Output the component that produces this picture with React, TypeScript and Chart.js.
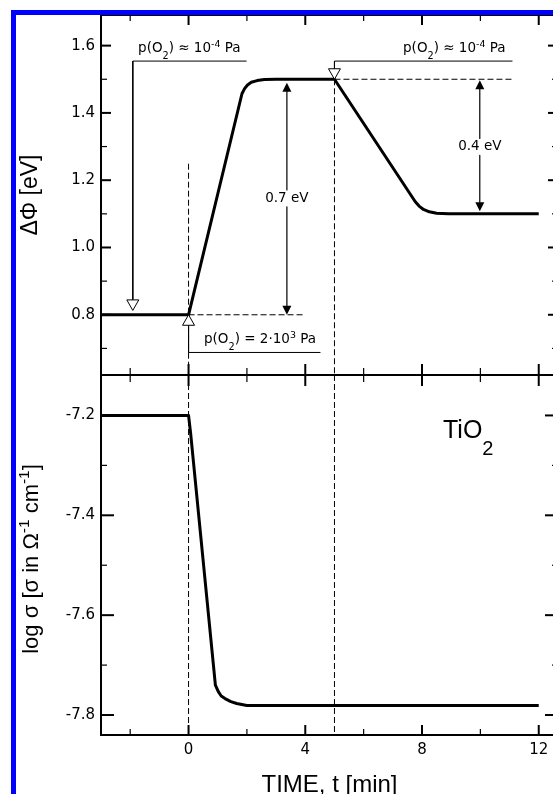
import React, { useEffect, useRef } from 'react';
import { Chart, registerables } from 'chart.js';
Chart.register(...registerables);

// ---- main curves ----
const timeDeltaPhi = [-3, 0, 1.83, 1.92, 2.02, 2.15, 2.35, 2.6, 3.0, 5.0, 7.77, 7.9, 8.05, 8.25, 8.5, 8.9, 12];
const deltaPhi = [0.8, 0.8, 1.457, 1.472, 1.483, 1.491, 1.496, 1.499, 1.5, 1.5, 1.136, 1.123, 1.113, 1.106, 1.102, 1.1, 1.1];
const timeLogSigma = [-3, 0, 0.07, 0.92, 1.02, 1.12, 1.25, 1.45, 1.65, 2.0, 12];
const logSigma = [-7.2, -7.2, -7.235, -7.74, -7.753, -7.762, -7.767, -7.773, -7.777, -7.781, -7.781];

// ---- axes ----
const xRange = [-3, 12.66];
const topRange = [0.621, 1.691];
const bottomRange = [-7.84, -7.119];
const xMajorTicks = [0, 4, 8, 12];
const xMinorTicks = [-2, 2, 6, 10];
const topMajorTicks = [0.8, 1.0, 1.2, 1.4, 1.6];
const topMinorTicks = [0.7, 0.9, 1.1, 1.3, 1.5];
const bottomMajorTicks = [-7.8, -7.6, -7.4, -7.2];
const bottomMinorTicks = [-7.7, -7.5, -7.3];

// ---- annotations ----
const gasSwitchTimes = [0, 5];
const dashedStartTop = [1.249, 1.5];
const levelDashStartT = [0, 5];
const levelDashEndT = [3.94, 11.1];
const levelDashV = [0.8, 1.5];
const leftBracketT = [1.99, -1.91, -1.91];
const leftBracketV = [1.554, 1.554, 0.845];
const rightBracketT = [11.1, 5, 5];
const rightBracketV = [1.554, 1.554, 1.531];
const o2BracketT = [0, 0, 4.52];
const o2BracketV = [0.769, 0.688, 0.688];
const openMarkerT = [-1.91, 5, 0];
const openMarkerTipV = [0.813, 1.5, 0.8];
const openMarkerDir = ['down', 'down', 'up'];
const arrowT = [3.37, 9.98];
const arrowTop = [1.49, 1.497];
const arrowBottom = [0.8, 1.108];
const arrowLabel = ['0.7 eV', '0.4 eV'];
const arrowLabelV = [1.146, 1.299];
const arrowGap = 0.025;
const pressureLabelT = [-1.73, 7.35, 0.53];
const pressureLabelV = [1.581, 1.581, 0.716];
const pressureLabelKind = ['low', 'low', 'high'];
const materialT = 8.72;
const materialV = -7.2447;

type Part = { t: string; scale?: number; dy?: number };
const lowPressureText: Part[] = [{ t: 'p(O' }, { t: '2', scale: 0.72, dy: 0.5 }, { t: ') ≈ 10' }, { t: '-4', scale: 0.7, dy: -0.4 }, { t: ' Pa' }];
const highPressureText: Part[] = [{ t: 'p(O' }, { t: '2', scale: 0.72, dy: 0.5 }, { t: ') = 2·10' }, { t: '3', scale: 0.7, dy: -0.4 }, { t: ' Pa' }];
const materialText: Part[] = [{ t: 'TiO' }, { t: '2', scale: 0.8, dy: 0.7 }];
const yTitleTop: Part[] = [{ t: 'ΔΦ [eV]' }];
const yTitleBottom: Part[] = [{ t: 'log σ [σ in Ω' }, { t: '-1', scale: 0.7, dy: -0.4 }, { t: ' cm' }, { t: '-1', scale: 0.7, dy: -0.4 }, { t: ']' }];
const xTitle = 'TIME, t [min]';

function drawRich(ctx: CanvasRenderingContext2D, parts: Part[], x: number, y: number, size: number, family: string, align: 'left' | 'center') {
  ctx.textAlign = 'left';
  ctx.textBaseline = 'alphabetic';
  const widths = parts.map((p) => {
    ctx.font = `${size * (p.scale ?? 1)}px "${family}"`;
    return ctx.measureText(p.t).width;
  });
  const total = widths.reduce((a, b) => a + b, 0);
  let cx = align === 'center' ? x - total / 2 : x;
  parts.forEach((p, i) => {
    ctx.font = `${size * (p.scale ?? 1)}px "${family}"`;
    ctx.fillText(p.t, cx, y + (p.dy ?? 0) * size);
    cx += widths[i];
  });
}

const overlay = {
  id: 'overlay',
  afterDatasetsDraw(chart: any) {
    const ctx: CanvasRenderingContext2D = chart.ctx;
    const xs = chart.scales.x, yt = chart.scales.yTop, yb = chart.scales.yBot;
    ctx.save();
    ctx.strokeStyle = '#000';
    ctx.fillStyle = '#000';
    openMarkerT.forEach((t, i) => {
      const px = xs.getPixelForValue(t);
      const py = yt.getPixelForValue(openMarkerTipV[i]);
      const by = py + (openMarkerDir[i] === 'down' ? -10.5 : 10.5);
      ctx.beginPath();
      ctx.moveTo(px, py);
      ctx.lineTo(px - 6, by);
      ctx.lineTo(px + 6, by);
      ctx.closePath();
      ctx.fillStyle = '#fff';
      ctx.fill();
      ctx.lineWidth = 1;
      ctx.stroke();
    });
    ctx.fillStyle = '#000';
    arrowT.forEach((t, i) => {
      const px = xs.getPixelForValue(t);
      const pt = yt.getPixelForValue(arrowTop[i]);
      const pb = yt.getPixelForValue(arrowBottom[i]);
      ctx.beginPath();
      ctx.moveTo(px, pt);
      ctx.lineTo(px - 4.5, pt + 9);
      ctx.lineTo(px + 4.5, pt + 9);
      ctx.closePath();
      ctx.fill();
      ctx.beginPath();
      ctx.moveTo(px, pb);
      ctx.lineTo(px - 4.5, pb - 9);
      ctx.lineTo(px + 4.5, pb - 9);
      ctx.closePath();
      ctx.fill();
      ctx.font = '13.5px "DejaVu Sans"';
      ctx.textAlign = 'center';
      ctx.textBaseline = 'middle';
      ctx.fillText(arrowLabel[i], px, yt.getPixelForValue(arrowLabelV[i]));
    });
    pressureLabelT.forEach((t, i) => {
      drawRich(ctx, pressureLabelKind[i] === 'low' ? lowPressureText : highPressureText,
        xs.getPixelForValue(t), yt.getPixelForValue(pressureLabelV[i]), 13.5, 'DejaVu Sans', 'left');
    });
    drawRich(ctx, materialText, xs.getPixelForValue(materialT), yb.getPixelForValue(materialV), 25, 'Liberation Sans', 'left');
    ctx.restore();
  },
  afterDraw(chart: any) {
    const ctx: CanvasRenderingContext2D = chart.ctx;
    const xs = chart.scales.x, yt = chart.scales.yTop, yb = chart.scales.yBot;
    const { left, right, top, bottom } = chart.chartArea;
    const mid = yt.bottom;
    ctx.save();
    ctx.strokeStyle = '#000';
    ctx.fillStyle = '#000';
    const seg = (x1: number, y1: number, x2: number, y2: number, w: number) => {
      ctx.lineWidth = w;
      ctx.beginPath();
      ctx.moveTo(x1, y1);
      ctx.lineTo(x2, y2);
      ctx.stroke();
    };
    ctx.lineWidth = 2;
    ctx.strokeRect(left, top, right - left, bottom - top);
    seg(left, mid, right, mid, 2);
    const xTick = (t: number, len: number, w: number) => {
      const p = xs.getPixelForValue(t);
      seg(p, bottom, p, bottom - len, w);
      seg(p, mid - len - 1, p, mid + len + 1, w);
      seg(p, top, p, top + len, w);
    };
    xMajorTicks.forEach((t) => xTick(t, 10, 2));
    xMinorTicks.forEach((t) => xTick(t, 6, 1.2));
    const yTick = (scale: any, v: number, len: number, w: number) => {
      const p = scale.getPixelForValue(v);
      seg(left, p, left + len, p, w);
      seg(right, p, right - len, p, w);
    };
    topMajorTicks.forEach((v) => yTick(yt, v, 10, 2));
    topMinorTicks.forEach((v) => yTick(yt, v, 6, 1.2));
    bottomMajorTicks.forEach((v) => yTick(yb, v, 13, 2));
    bottomMinorTicks.forEach((v) => yTick(yb, v, 6, 1.2));
    ctx.font = '24px "Liberation Sans"';
    ctx.textAlign = 'center';
    ctx.textBaseline = 'alphabetic';
    ctx.fillText(xTitle, (left + right) / 2, chart.height - 2);
    ctx.save();
    ctx.translate(left - 64.2, (yt.top + yt.bottom) / 2);
    ctx.rotate(-Math.PI / 2);
    drawRich(ctx, yTitleTop, 0, 0, 23, 'Liberation Sans', 'center');
    ctx.restore();
    ctx.save();
    ctx.translate(left - 63.2, (yb.top + yb.bottom) / 2 + 4);
    ctx.rotate(-Math.PI / 2);
    drawRich(ctx, yTitleBottom, 0, 0, 22, 'Liberation Sans', 'center');
    ctx.restore();
    ctx.restore();
  },
};

export default function App() {
  const ref = useRef<HTMLCanvasElement>(null);
  useEffect(() => {
    const canvas = ref.current!;
    const pts = (ts: number[], vs: number[]) => ts.map((t, i) => ({ x: t, y: vs[i] }));
    const line = (data: any[], yAxisID: string, extra: any = {}) => ({
      data, yAxisID, showLine: true, pointRadius: 0, borderColor: '#000', borderWidth: 1,
      fill: false, tension: 0, borderJoinStyle: 'round', ...extra,
    });
    const dash = { borderDash: [6, 3] };
    const datasets: any[] = [
      ...gasSwitchTimes.map((t, i) => line(pts([t, t], [dashedStartTop[i], topRange[0]]), 'yTop', dash)),
      ...gasSwitchTimes.map((t) => line(pts([t, t], [bottomRange[1], bottomRange[0]]), 'yBot', dash)),
      ...levelDashStartT.map((t, i) => line(pts([t, levelDashEndT[i]], [levelDashV[i], levelDashV[i]]), 'yTop', dash)),
      line(pts(leftBracketT, leftBracketV), 'yTop'),
      line(pts(rightBracketT, rightBracketV), 'yTop'),
      line(pts(o2BracketT, o2BracketV), 'yTop'),
      ...arrowT.flatMap((t, i) => [
        line(pts([t, t], [arrowTop[i] - 0.02, arrowLabelV[i] + arrowGap]), 'yTop', { borderWidth: 1.2 }),
        line(pts([t, t], [arrowLabelV[i] - arrowGap, arrowBottom[i] + 0.02]), 'yTop', { borderWidth: 1.2 }),
      ]),
      line(pts(timeDeltaPhi, deltaPhi), 'yTop', { borderWidth: 3 }),
      line(pts(timeLogSigma, logSigma), 'yBot', { borderWidth: 3 }),
    ];
    const yCommon = (range: number[], ticks: number[], weight: number) => ({
      type: 'linear', position: 'left', stack: 'panels', stackWeight: weight,
      min: range[0], max: range[1],
      grid: { display: false, drawTicks: false }, border: { display: false },
      afterBuildTicks: (s: any) => { s.ticks = ticks.map((v) => ({ value: v })); },
      afterFit: (s: any) => { s.width = 101; },
      ticks: { font: { family: 'DejaVu Sans', size: 15 }, color: '#000', padding: 6, autoSkip: false,
        callback: (v: any) => Number(v).toFixed(1) },
    });
    const chart = new Chart(canvas, {
      type: 'scatter',
      data: { datasets },
      options: {
        animation: false,
        responsive: false,
        events: [],
        layout: { padding: { left: 0, right: 17, top: 12.5, bottom: 0 } },
        plugins: { legend: { display: false }, tooltip: { enabled: false } },
        scales: {
          x: {
            type: 'linear', position: 'bottom', min: xRange[0], max: xRange[1],
            grid: { display: false, drawTicks: false }, border: { display: false },
            afterBuildTicks: (s: any) => { s.ticks = xMajorTicks.map((v) => ({ value: v })); },
            afterFit: (s: any) => { s.height = 59; },
            ticks: { font: { family: 'DejaVu Sans', size: 15 }, color: '#000', padding: 6, maxRotation: 0, autoSkip: false,
              callback: (v: any) => String(v) },
          },
          yBot: yCommon(bottomRange, bottomMajorTicks, 1),
          yTop: yCommon(topRange, topMajorTicks, 1),
        } as any,
      },
      plugins: [overlay],
    } as any);
    return () => chart.destroy();
  }, []);
  return (
    <div style={{ position: 'fixed', left: 0, top: 0, width: 553, height: 794, overflow: 'hidden', background: '#fff' }}>
      <canvas ref={ref} width={575} height={794} style={{ position: 'absolute', left: 0, top: 0, width: 575, height: 794 }} />
      <div style={{ position: 'absolute', left: 11, top: 10, width: 2000, height: 2000, borderLeft: '5px solid #0000ff', borderTop: '5px solid #0000ff', pointerEvents: 'none' }} />
    </div>
  );
}
